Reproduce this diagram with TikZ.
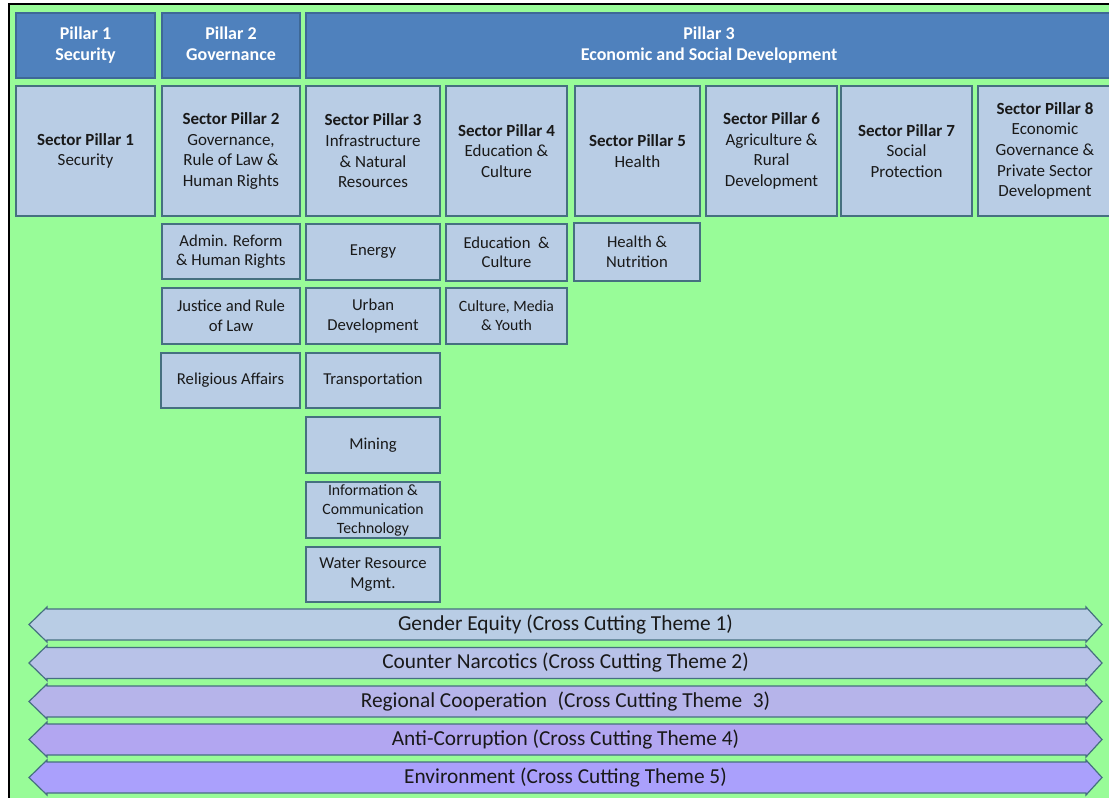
\documentclass[tikz,border=0pt]{standalone}
\usepackage{fontspec}
\setmainfont{Carlito}
\definecolor{bg}{RGB}{152,252,152}
\definecolor{hdr}{RGB}{79,129,189}
\definecolor{hdrline}{RGB}{62,104,150}
\definecolor{sec}{RGB}{185,205,229}
\definecolor{secline}{RGB}{70,112,128}
\definecolor{txt}{RGB}{25,25,25}
\definecolor{aA}{RGB}{185,205,229}
\definecolor{aB}{RGB}{184,194,232}
\definecolor{aC}{RGB}{182,180,234}
\definecolor{aD}{RGB}{178,166,241}
\definecolor{aE}{RGB}{170,160,252}
\newcommand\bx[7]{\node[#1, minimum width={(#4-#2)*0.75pt}, minimum height={(#5-#3)*0.75pt}] (#6) at ({(#2+#4)/2},{(#3+#5)/2}) {#7};}
\newcommand\band[4]{%
  \draw[bandline, fill=#1] (29,#2) -- (47,#2-17.5) -- (47,#2-15.5) -- (1086,#2-15.5) -- (1086,#2-17.5) -- (1102,#2) -- (1086,#2+17.5) -- (1086,#2+15.5) -- (47,#2+15.5) -- (47,#2+17.5) -- cycle;
  \node[bandtext] (#3) at (565.5,#2) {#4};}
\begin{document}
\begin{tikzpicture}[x=0.75pt,y=-0.75pt,
  hdrbox/.style={fill=hdr, draw=hdrline, line width=0.9pt, text=white, align=center, inner sep=0pt,
    font=\bfseries\fontsize{13.5}{15.75}\selectfont},
  secbox/.style={fill=sec, draw=secline, line width=0.9pt, text=txt, align=center, inner sep=0pt,
    font=\fontsize{12.75}{15.5}\selectfont},
  subbox/.style={fill=sec, draw=secline, line width=0.9pt, text=txt, align=center, inner sep=0pt,
    font=\fontsize{12.5}{14.6}\selectfont},
  smallbox/.style={subbox, font=\fontsize{11.8}{14.2}\selectfont},
  bandline/.style={draw=secline, line width=0.9pt},
  bandtext/.style={text=txt, inner sep=0pt, font=\fontsize{16}{19}\selectfont}]
\useasboundingbox (0,0) rectangle (1109,798);
\fill[white] (0,0) rectangle (1109,798);
\fill[bg] (9,4) rectangle (1112,800);
\draw[black, line width=2pt] (9,800) -- (9,4) -- (1112,4);
% header row
\bx{hdrbox}{16}{13}{155}{78}{p1}{Pillar 1\\Security}
\bx{hdrbox}{162}{13}{300}{78}{p2}{Pillar 2\\Governance\vphantom{y}}
\bx{hdrbox}{306}{13}{1112}{78}{p3}{Pillar 3\\Economic and Social Development}
% sector pillars
\bx{secbox}{16}{86}{155}{216}{s1}{\textbf{Sector Pillar 1}\\Security}
\bx{secbox}{162}{86}{300}{216}{s2}{\textbf{Sector Pillar 2}\\Governance,\\Rule of Law \&\\Human Rights}
\bx{secbox}{306}{86}{440}{216}{s3}{\textbf{Sector Pillar 3}\\Infrastructure\\\& Natural\\Resources}
\bx{secbox}{446}{86}{567}{216}{s4}{\textbf{Sector Pillar 4}\\Education \&\\Culture}
\bx{secbox}{575}{86}{700}{216}{s5}{\textbf{Sector Pillar 5}\\Health}
\bx{secbox}{706}{86}{837}{216}{s6}{\textbf{Sector Pillar 6}\\Agriculture \&\\Rural\\Development}
\bx{secbox}{841}{86}{972}{216}{s7}{\textbf{Sector Pillar 7}\\Social\\Protection}
\bx{secbox}{978}{86}{1112}{216}{s8}{\textbf{Sector Pillar 8}\\Economic\\Governance \&\\Private Sector\\Development}
% sub-sectors column 2
\bx{subbox}{162}{224}{300}{279}{c2a}{Admin. Reform\\\& Human Rights}
\bx{subbox}{162}{288}{300}{344}{c2b}{Justice and Rule\\of Law}
\bx{subbox}{161}{353}{300}{408}{c2c}{Religious Affairs}
% column 3
\bx{subbox}{306}{224}{440}{280}{c3a}{Energy}
\bx{subbox}{306}{288}{440}{344}{c3b}{Urban\\Development}
\bx{subbox}{306}{353}{440}{408}{c3c}{Transportation}
\bx{subbox}{306}{417}{440}{473}{c3d}{Mining}
\bx{smallbox}{306}{482}{440}{538}{c3e}{Information \&\\Communication\\Technology}
\bx{subbox}{306}{547}{440}{602}{c3f}{Water Resource\\Mgmt.}
% column 4
\bx{subbox}{446}{224}{567}{281}{c4a}{Education~ \&\\Culture}
\bx{smallbox}{446}{288}{567}{344}{c4b}{Culture, Media\\\& Youth}
% column 5
\bx{subbox}{574}{223}{700}{281}{c5a}{Health \&\\Nutrition}
% cross cutting themes
\band{aA}{624.5}{t1}{Gender Equity (Cross Cutting Theme 1)}
\band{aB}{663}{t2}{Counter Narcotics (Cross Cutting Theme 2)}
\band{aC}{701.5}{t3}{Regional Cooperation\enspace(Cross Cutting Theme\enspace3)}
\band{aD}{739.5}{t4}{Anti-Corruption (Cross Cutting Theme 4)}
\band{aE}{777.5}{t5}{Environment (Cross Cutting Theme 5)}
\end{tikzpicture}
\end{document}
